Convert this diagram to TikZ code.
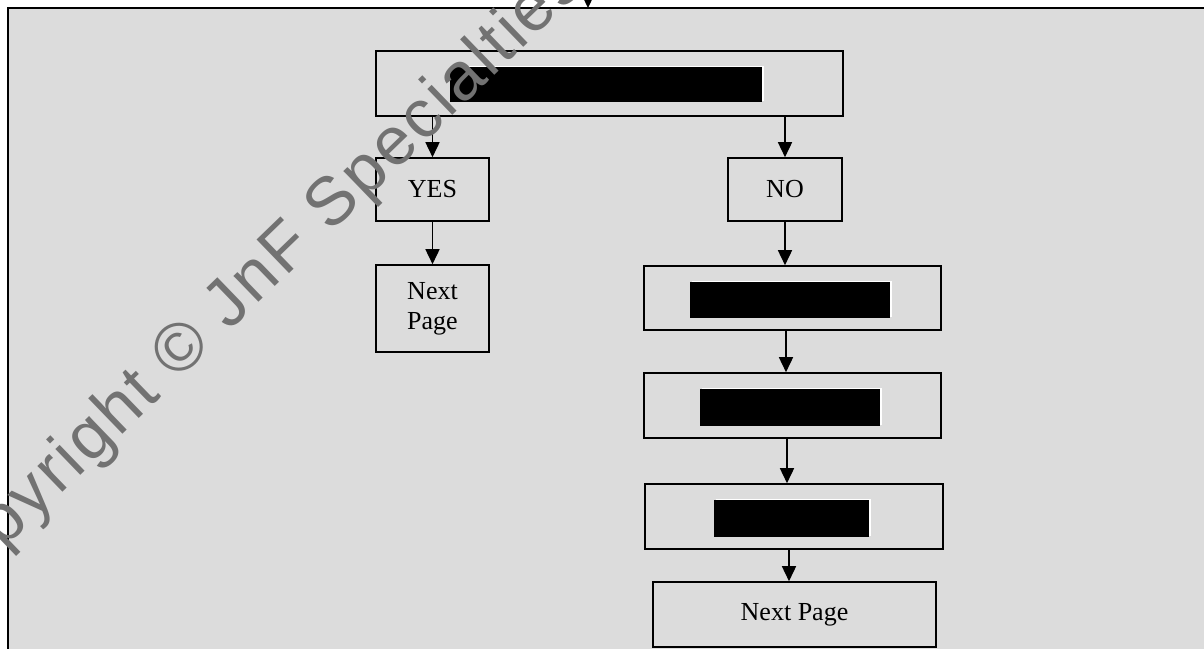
\documentclass[tikz,border=0pt]{standalone}
\usepackage{fontspec}
\setmainfont{Liberation Serif}
\newfontfamily\markfont[LetterSpace=4]{Liberation Sans}
\usetikzlibrary{arrows.meta}
\definecolor{panel}{HTML}{DCDCDC}
\definecolor{markgray}{HTML}{727272}
\begin{document}
\begin{tikzpicture}[x=0.5pt,y=-0.5pt,
  flowbox/.style={draw=black, line width=0.8pt, inner sep=0pt, align=center,
    font=\fontsize{13}{15}\selectfont},
  flowarrow/.style={line width=0.8pt, -{Triangle[length=7.5pt,width=7pt]}},
  blackout/.style={fill=black},
  blackedge/.style={fill=white}]
\useasboundingbox (0,0) rectangle (1204,648);
\clip (0,0) rectangle (1204,648);
\fill[white] (0,0) rectangle (1204,648);
% page frame
\draw[line width=1pt, fill=panel] (8,8) rectangle (1230,680);

% boxes
\node[flowbox, minimum width=233.5pt, minimum height=32.5pt] (top) at (609.5,83.5) {};
\node[flowbox, minimum width=56.5pt, minimum height=31.5pt] (yes) at (432.5,189.5) {YES};
\node[flowbox, minimum width=57pt, minimum height=31.5pt] (no) at (785,189.5) {NO};
\node[flowbox, minimum width=56.5pt, minimum height=43.5pt] (nexta) at (432.5,308.5) {Next\\Page};
\node[flowbox, minimum width=148.5pt, minimum height=32pt] (s1) at (792.5,298) {};
\node[flowbox, minimum width=148.5pt, minimum height=32.5pt] (s2) at (792.5,405.5) {};
\node[flowbox, minimum width=149pt, minimum height=32.5pt] (s3) at (794,516.5) {};
\node[flowbox, minimum width=141.5pt, minimum height=32.5pt] (nextb) at (794.5,614.5) {Next Page};

% blacked-out labels
\fill[blackedge] (451.5,65.5) rectangle (763.5,100.5);
\fill[blackout] (450,67) rectangle (762,102);
\fill[blackedge] (691.5,280.5) rectangle (891.5,316.5);
\fill[blackout] (690,282) rectangle (890,318);
\fill[blackedge] (701.5,387.5) rectangle (881.5,424.5);
\fill[blackout] (700,389) rectangle (880,426);
\fill[blackedge] (715.5,498.5) rectangle (870.5,535.5);
\fill[blackout] (714,500) rectangle (869,537);

% connectors
\coordinate (above) at (588,-40);
\coordinate (entry) at (588,8);
\draw[flowarrow] (above) -- (entry);
\draw[flowarrow] (top.south -| yes.north) -- (yes.north);
\draw[flowarrow] (top.south -| no.north) -- (no.north);
\draw[flowarrow] (yes.south) -- (nexta.north);
\draw[flowarrow] (no.south) -- (no.south |- s1.north);
\draw[flowarrow] ([xshift=-3.25pt]s1.south) -- ([xshift=-3.25pt]s1.south |- s2.north);
\draw[flowarrow] ([xshift=-2.75pt]s2.south) -- ([xshift=-2.75pt]s2.south |- s3.north);
\draw[flowarrow] ([xshift=-2.5pt]s3.south) -- ([xshift=-2.5pt]s3.south |- nextb.north);

% watermark
\node[rotate=44, anchor=base, inner sep=0pt, text=markgray,
  font=\markfont\fontsize{34}{38}\selectfont] (mark) at (262,300)
  {Copyright © JnF Specialties};
\end{tikzpicture}
\end{document}
